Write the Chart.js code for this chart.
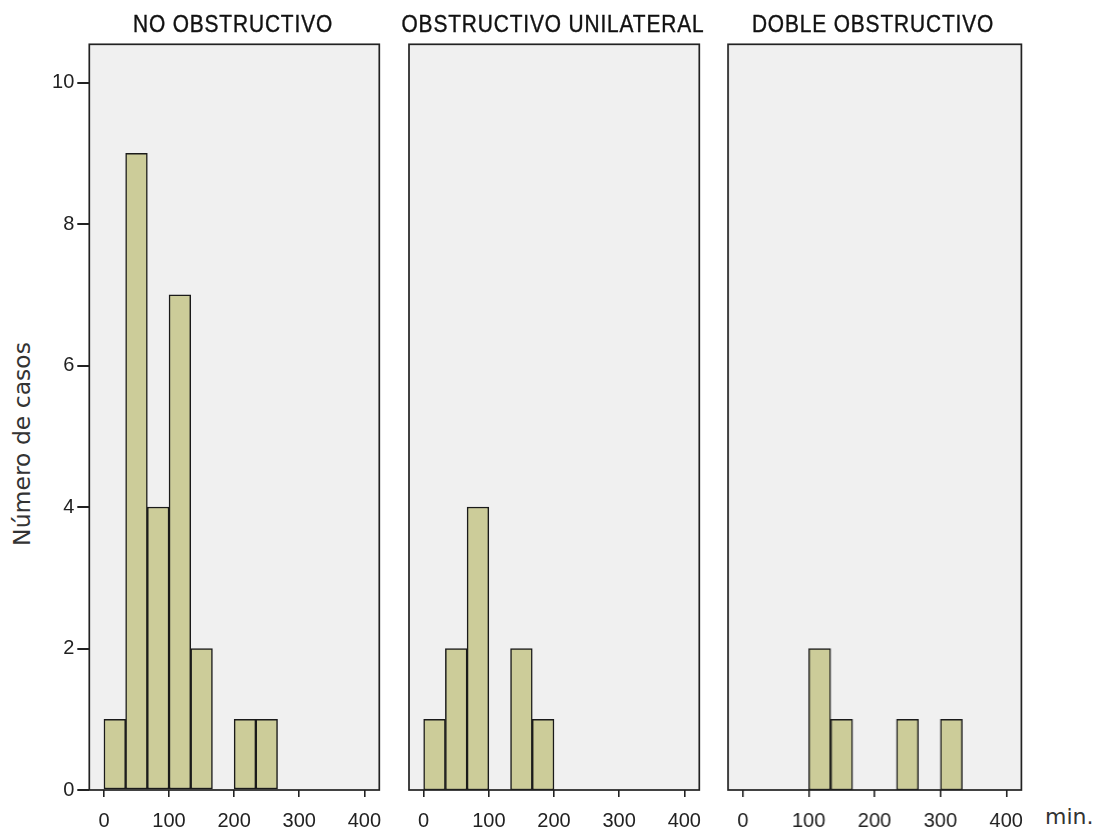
<!DOCTYPE html>
<html>
<head>
<meta charset="utf-8">
<script src="https://cdn.jsdelivr.net/npm/chart.js@4"></script>
<style>
  body { margin: 0; background: #fff; width: 1103px; height: 831px; position: relative; overflow: hidden; }
  .panel { position: absolute; top: 0; height: 831px; }
  .ptitle { position: absolute; top: 12px; width: 400px; text-align: center; font: 24px/24px "Liberation Sans", sans-serif; letter-spacing: 1px; color: #111; white-space: nowrap; transform: scaleX(0.87); -webkit-text-stroke: 0.4px #111; }
  #ytitle { position: absolute; left: 22px; top: 444px; transform: translate(-50%, -50%) rotate(-90deg); font: 23.5px/24px "DejaVu Sans", sans-serif; color: #333; white-space: nowrap; }
  #xunit { position: absolute; left: 1045px; top: 806px; font: 22px/22px "DejaVu Sans", sans-serif; color: #333; }
</style>
</head>
<body>
<div id="ytitle">Número de casos</div>
<div id="xunit">min.</div>

<script>
// bin midpoints (min.), bin width ~33.3
const binMid = [16.67, 50, 83.33, 116.67, 150, 183.33, 216.67, 250, 283.33, 316.67, 350, 383.33];

const noObstructivo = [1, 9, 4, 7, 2, 0, 1, 1, 0, 0, 0, 0];
const unilateral    = [1, 2, 4, 0, 2, 1, 0, 0, 0, 0, 0, 0];
const dobleObs      = [0, 0, 0, 2, 1, 0, 0, 1, 0, 1, 0, 0];

const panelTitles = ['NO OBSTRUCTIVO', 'OBSTRUCTIVO UNILATERAL', 'DOBLE OBSTRUCTIVO'];
const xTicks = [0, 100, 200, 300, 400];
const yTicks = [0, 2, 4, 6, 8, 10];

// layout: plot area left/right for each panel, title centres
const areas = [[89.3, 379.3], [409, 699.3], [728.3, 1020.7]];
const titleX = [232.5, 553, 872.5];
const AREA_TOP = 44.3, AREA_BOTTOM = 790;

const plotBox = {
    id: 'plotBox',
    beforeDraw: function(chart) {
        const a = chart.chartArea;
        const ctx = chart.ctx;
        ctx.save();
        ctx.fillStyle = '#f0f0f0';
        ctx.fillRect(a.left, a.top, a.right - a.left, a.bottom - a.top);
        ctx.restore();
    },
    afterDatasetsDraw: function(chart) {
        const a = chart.chartArea;
        const ctx = chart.ctx;
        ctx.save();
        ctx.strokeStyle = '#222';
        ctx.lineWidth = 1.7;
        ctx.strokeRect(a.left, a.top, a.right - a.left, a.bottom - a.top);
        ctx.restore();
    }
};

const tickFont = { family: '"Liberation Sans", sans-serif', size: 20 };

function makePanel(i, values) {
    const [l, r] = areas[i];
    const left = i === 0 ? 0 : l - 7;
    const width = (r - left) + 7;

    const div = document.createElement('div');
    div.className = 'panel';
    div.style.left = left + 'px';
    div.style.width = width + 'px';
    const canvas = document.createElement('canvas');
    div.appendChild(canvas);
    document.body.appendChild(div);

    const t = document.createElement('div');
    t.className = 'ptitle';
    t.style.left = (titleX[i] - 200) + 'px';
    t.textContent = panelTitles[i];
    document.body.appendChild(t);

    const yAxis = {
        display: i === 0,
        min: 0,
        max: 10.54,
        afterBuildTicks: s => { s.ticks = yTicks.map(v => ({ value: v })); },
        grid: { drawOnChartArea: false, drawTicks: true, tickLength: 12, color: '#222', lineWidth: 2 },
        border: { display: false },
        ticks: { font: tickFont, color: '#222', padding: 3 }
    };
    if (i === 0) yAxis.afterFit = s => { s.width = l; s.paddingTop = 0; s.paddingBottom = 0; };

    new Chart(canvas.getContext('2d'), {
        type: 'bar',
        data: {
            datasets: [{
                data: binMid.map((x, k) => ({ x: x, y: values[k] })),
                backgroundColor: '#cccc99',
                borderColor: '#1a1a1a',
                borderWidth: 1.5,
                borderSkipped: false,
                barPercentage: 1,
                categoryPercentage: 1
            }]
        },
        options: {
            responsive: true,
            maintainAspectRatio: false,
            animation: false,
            layout: { padding: { left: i === 0 ? 0 : 7, right: 7, top: AREA_TOP, bottom: 0 } },
            plugins: { legend: { display: false }, tooltip: { enabled: false } },
            scales: {
                x: {
                    type: 'linear',
                    offset: false,
                    min: -22.5,
                    max: 423,
                    afterBuildTicks: s => { s.ticks = xTicks.map(v => ({ value: v })); },
                    afterFit: s => { s.height = 831 - AREA_BOTTOM; s.paddingLeft = 0; s.paddingRight = 0; },
                    grid: { offset: false, drawOnChartArea: false, drawTicks: true, tickLength: 7, color: '#222', lineWidth: 1.6 },
                    border: { display: false },
                    ticks: { font: tickFont, color: '#222', padding: 12, maxRotation: 0 }
                },
                y: yAxis
            }
        },
        plugins: [plotBox]
    });
}

makePanel(0, noObstructivo);
makePanel(1, unilateral);
makePanel(2, dobleObs);
</script>
</body>
</html>
